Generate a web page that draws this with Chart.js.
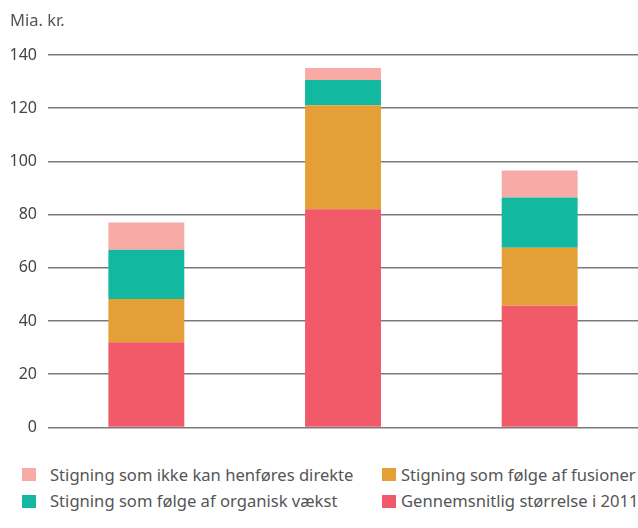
<!DOCTYPE html>
<html>
<head>
<meta charset="utf-8">
<script src="https://cdn.jsdelivr.net/npm/chart.js@4"></script>
<style>
  body { margin: 0; background: #fff; font-family: "Noto Sans", sans-serif; }
  #wrap { position: relative; width: 638px; height: 528px; }
  #chartBox { position: absolute; left: 0; top: 0; width: 638px; height: 448px; }
  #unit { position: absolute; left: 10px; top: 8px; font-size: 16.5px; color: #555; }
  .box { position: absolute; width: 14px; height: 13px; }
  .txt { position: absolute; white-space: nowrap; font-size: 16.6px; line-height: 20px; color: #555; }
</style>
</head>
<body>
<div id="wrap">
  <div id="chartBox"><canvas id="chart"></canvas></div>
  <div id="unit">Mia. kr.</div>
  <div id="legend"></div>
</div>
<script>
const categories = ['', '', ''];
const gennemsnit = [32, 82, 45.7];
const fusioner = [16.3, 39.1, 21.8];
const organisk = [18.5, 9.5, 18.9];
const ikkeHenfoeres = [10.2, 4.5, 10.2];

const seriesLabels = [
  'Gennemsnitlig størrelse i 2011',
  'Stigning som følge af fusioner',
  'Stigning som følge af organisk vækst',
  'Stigning som ikke kan henføres direkte'
];
const colors = ['#f05a69', '#e4a036', '#12b9a0', '#f8aba6'];

const datasets = [gennemsnit, fusioner, organisk, ikkeHenfoeres].map((values, i) => ({
  label: seriesLabels[i],
  data: values,
  backgroundColor: colors[i],
  borderWidth: 0,
  categoryPercentage: 1,
  barPercentage: 0.386
}));

new Chart(document.getElementById('chart').getContext('2d'), {
  type: 'bar',
  data: { labels: categories, datasets: datasets },
  options: {
    responsive: true,
    maintainAspectRatio: false,
    animation: false,
    layout: { padding: { top: 55, bottom: 6, left: 0, right: 0 } },
    plugins: {
      legend: { display: false },
      tooltip: { enabled: false }
    },
    scales: {
      x: { stacked: true, display: false },
      y: {
        stacked: true,
        min: 0,
        max: 140,
        border: { display: false },
        grid: { color: '#7a7a7a', lineWidth: 1.5, drawTicks: false },
        ticks: {
          stepSize: 20,
          padding: 11,
          color: '#444',
          font: { family: 'Noto Sans', size: 16 }
        },
        afterFit: function(scale) { scale.width = 48; }
      }
    }
  }
});

// legend in two columns, same order as the picture
const legendOrder = [3, 1, 2, 0];
const boxX = [22, 382];
const textX = [50, 401];
const rowY = [474.5, 501];
const legendEl = document.getElementById('legend');
legendOrder.forEach((idx, n) => {
  const col = n % 2;
  const row = n < 2 ? 0 : 1;
  const box = document.createElement('div');
  box.className = 'box';
  box.style.left = boxX[col] + 'px';
  box.style.top = (rowY[row] - 6.5) + 'px';
  box.style.background = colors[idx];
  const txt = document.createElement('div');
  txt.className = 'txt';
  txt.style.left = textX[col] + 'px';
  txt.style.top = (rowY[row] - 10) + 'px';
  txt.textContent = seriesLabels[idx];
  legendEl.appendChild(box);
  legendEl.appendChild(txt);
});
</script>
</body>
</html>
